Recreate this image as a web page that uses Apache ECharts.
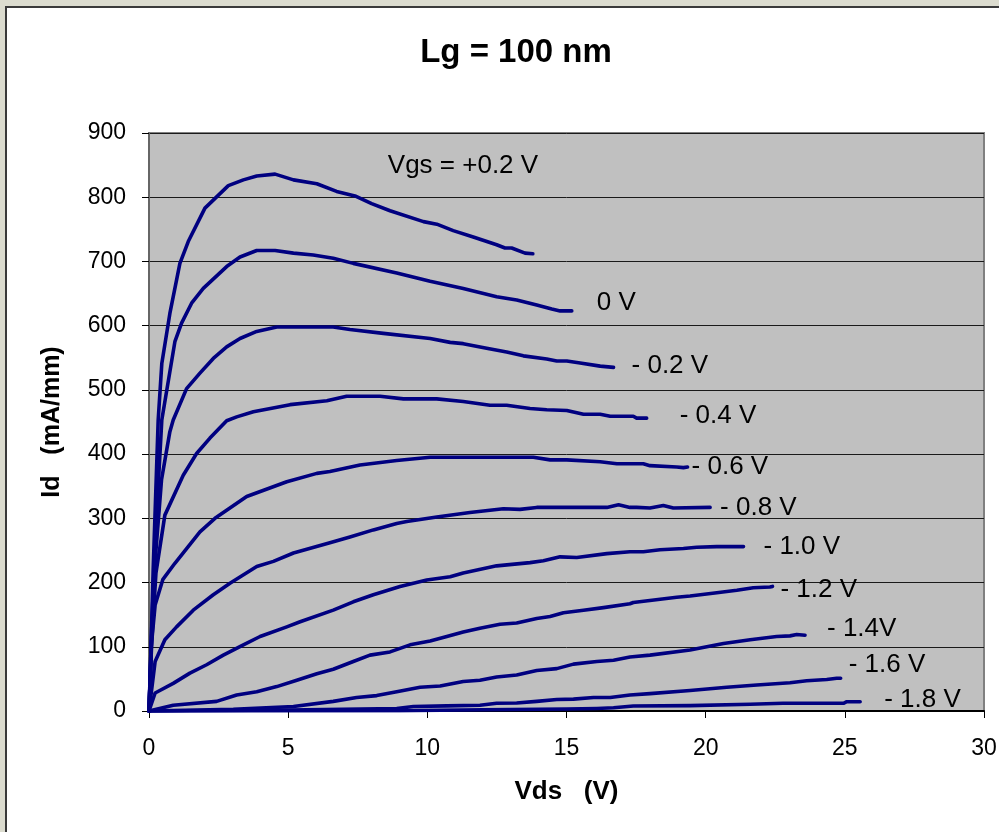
<!DOCTYPE html>
<html>
<head>
<meta charset="utf-8">
<script src="https://cdn.jsdelivr.net/npm/echarts@6/dist/echarts.min.js"></script>
<style>
  html, body { margin: 0; padding: 0; width: 999px; height: 832px; overflow: hidden; background: #dcdccf; }
  #frame { position: absolute; left: 5px; top: 6px; width: 996px; height: 832px;
           border: 2px solid #3a3a3a; background: #ffffff; }
  #chart { width: 996px; height: 832px; }
</style>
</head>
<body>
<div id="frame"><div id="chart"></div></div>
<script>
// Id–Vds output characteristics, Lg = 100 nm. Each curve: [Vds (V), Id (mA/mm)]
const gateLabels = ['Vgs = +0.2 V', '0 V', '- 0.2 V', '- 0.4 V', '- 0.6 V', '- 0.8 V',
                    '- 1.0 V', '- 1.2 V', '- 1.4V', '- 1.6 V', '- 1.8 V'];

const vgsP02 = [[0,0],[0.04,48],[0.15,220],[0.33,453],[0.46,541],[0.75,619],[1.11,697],[1.41,731],
  [2.01,783],[2.85,818],[3.39,827],[3.87,833],[4.53,836],[5.19,827],[6.03,821],[6.74,809],[7.4,802],
  [8.0,790],[8.66,779],[9.86,762],[10.34,758],[10.93,748],[11.65,738],[12.49,726],[12.79,721],
  [13.03,721],[13.51,713],[13.79,712]];

const vgs0 = [[0,0],[0.08,110],[0.2,240],[0.33,350],[0.46,453],[0.93,575],[1.17,604],[1.53,635],
  [1.95,658],[2.79,692],[3.27,707],[3.87,717],[4.53,717],[5.19,713],[5.9,710],[6.62,705],[7.34,697],
  [8.9,682],[10.1,669],[11.29,658],[12.49,645],[13.21,640],[13.93,632],[14.47,626],[14.77,623],[15.19,623]];

const vgsM02 = [[0,0],[0.1,120],[0.25,250],[0.45,360],[0.75,435],[0.87,453],[1.35,502],[1.83,526],
  [2.31,549],[2.79,567],[3.27,580],[3.87,591],[4.59,598],[6.62,598],[7.22,594],[8.42,588],[10.1,580],
  [10.82,574],[11.29,572],[12.13,565],[12.85,559],[13.45,553],[14.29,548],[14.65,545],[15.01,545],
  [15.49,542],[16.21,537],[16.69,535]];

const vgsM04 = [[0,0],[0.1,110],[0.25,215],[0.57,305],[1.23,367],[1.71,401],[2.19,425],[2.79,452],
  [3.15,458],[3.75,466],[5.07,477],[6.39,483],[7.1,490],[8.3,490],[9.14,486],[10.34,486],[11.29,482],
  [12.25,476],[12.85,476],[13.69,471],[14.29,469],[15.01,468],[15.61,462],[16.21,462],[16.57,459],
  [17.4,459],[17.52,456],[17.88,456]];

const vgsM06 = [[0,0],[0.08,100],[0.22,165],[0.5,205],[0.93,230],[1.83,279],[2.37,300],[3.51,334],
  [4.95,357],[6.03,370],[6.5,373],[7.58,383],[8.9,390],[10.1,395],[13.81,395],[14.41,391],[15.01,391],
  [16.21,388],[16.81,385],[17.76,385],[18.0,382],[18.96,380],[19.2,379],[19.35,380]];

const vgsM08 = [[0,0],[0.22,77],[0.57,111],[0.99,131],[1.59,157],[2.31,181],[2.91,199],[3.87,225],
  [4.47,233],[5.19,246],[6.5,262],[7.22,271],[8.06,282],[8.9,292],[9.26,295],[10.34,302],[11.53,309],
  [12.73,315],[13.33,314],[13.93,317],[15.85,317],[16.45,317],[16.87,321],[17.28,317],[17.52,317],
  [18.0,316],[18.48,320],[18.84,316],[20.16,317]];

const vgsM10 = [[0,0],[0.22,28],[0.87,43],[1.47,59],[2.07,72],[2.67,87],[3.39,103],[3.99,116],
  [4.95,131],[5.43,139],[6.62,157],[7.34,170],[8.06,181],[9.02,194],[9.98,204],[10.82,209],[11.29,215],
  [12.49,226],[13.69,231],[14.17,234],[14.77,240],[15.37,239],[16.45,245],[17.28,248],[17.76,248],
  [18.36,251],[19.2,253],[19.68,255],[20.4,256],[21.36,256]];

const vgsM12 = [[0,0],[0.87,9],[2.43,15],[3.15,25],[3.87,30],[4.59,38],[5.31,48],[6.03,58],[6.62,65],
  [7.34,77],[7.94,87],[8.66,92],[9.38,103],[10.1,109],[10.7,116],[11.29,123],[11.89,129],[12.61,135],
  [13.21,137],[13.93,144],[14.41,147],[14.89,153],[15.61,157],[16.33,161],[17.28,167],[17.4,169],
  [18.96,177],[19.44,179],[20.4,184],[21.12,188],[21.71,192],[22.31,193],[22.4,194]];

const vgsM14 = [[0,0],[3.03,2.6],[5.19,7],[6.62,15],[7.46,21],[8.18,24],[8.9,30],[9.74,37],[10.46,39],
  [11.29,46],[11.89,48],[12.49,53],[13.21,56],[13.93,63],[14.65,66],[15.25,73],[16.09,77],[16.69,79],
  [17.28,84],[18.0,87],[19.44,95],[20.64,105],[21.6,111],[22.55,116],[23.03,117],[23.27,119],[23.57,118]];

const vgsM16 = [[0,0],[5,1.5],[8.9,4],[9.5,7],[10.7,8],[11.89,9],[12.49,12],[13.21,12.5],[13.93,15],
  [14.65,18],[15.25,18.5],[15.97,21],[16.57,21],[17.28,25],[18.0,27],[19.44,32],[20.76,37],[21.84,40.5],
  [23.03,44],[23.63,47],[24.35,49],[24.71,51],[24.85,51]];

const vgsM18 = [[0,0],[9,0.5],[12,2],[15,3],[16.09,4],[16.69,5],[17.4,7.8],[19.44,8.3],[21.6,10.4],
  [22.78,12],[24.95,12],[25.07,14.5],[25.55,14.5]];

const curves = [vgsP02, vgs0, vgsM02, vgsM04, vgsM06, vgsM08, vgsM10, vgsM12, vgsM14, vgsM16, vgsM18];

const xTicks = { min: 0, max: 30, step: 5 };
const yTicks = { min: 0, max: 900, step: 100 };

// offset of each curve label from the end of its curve (px)
const labelOffsets = [[-150,-88],[20,-8],[13,-2],[28,-2],[-1,0],[5,0],[15,0],[3,3],[17,-6],[3,-13],[19,-2]];

const FONT = '"Liberation Sans", Arial, sans-serif';

const chart = echarts.init(document.getElementById('chart'), null, { renderer: 'canvas' });

const series = curves.map((pts, i) => ({
  name: gateLabels[i],
  type: 'line',
  data: pts,
  showSymbol: false,
  symbol: 'none',
  smooth: false,
  lineStyle: { color: '#000080', width: 3.6, cap: 'round', join: 'round' },
  endLabel: {
    show: true,
    formatter: gateLabels[i],
    distance: 5,
    offset: labelOffsets[i],
    color: '#000',
    fontFamily: FONT,
    fontSize: 26
  },
  z: 3
}));

chart.setOption({
  animation: false,
  title: {
    text: 'Lg = 100 nm',
    left: 504,
    textAlign: 'center',
    top: 23,
    textStyle: { fontFamily: FONT, fontWeight: 'bold', fontSize: 33, color: '#000' }
  },
  grid: {
    left: 142, right: 19, top: 125, bottom: 129,
    show: true, backgroundColor: '#c0c0c0', borderColor: '#808080', borderWidth: 2
  },
  xAxis: {
    type: 'value',
    min: xTicks.min, max: xTicks.max, interval: xTicks.step,
    name: 'Vds   (V)',
    nameLocation: 'middle',
    nameGap: 68,
    nameTextStyle: { fontFamily: FONT, fontWeight: 'bold', fontSize: 26, color: '#000' },
    axisLine: { show: true, lineStyle: { color: '#000', width: 2 } },
    axisTick: { show: true, inside: false, length: 7, lineStyle: { color: '#000', width: 1 } },
    axisLabel: { margin: 26, fontFamily: FONT, fontSize: 23, color: '#000' },
    splitLine: { show: false }
  },
  yAxis: {
    type: 'value',
    min: yTicks.min, max: yTicks.max, interval: yTicks.step,
    name: 'Id   (mA/mm)',
    nameLocation: 'middle',
    nameGap: 84,
    nameRotate: 90,
    nameTextStyle: { fontFamily: FONT, fontWeight: 'bold', fontSize: 25, color: '#000' },
    axisLine: { show: true, lineStyle: { color: '#666', width: 2 } },
    axisTick: { show: true, inside: false, length: 7, lineStyle: { color: '#000', width: 1 } },
    axisLabel: { margin: 23, fontFamily: FONT, fontSize: 23, color: '#000' },
    splitLine: { show: true, lineStyle: { color: '#1a1a1a', width: 1 } }
  },
  series: series
});
</script>
</body>
</html>
